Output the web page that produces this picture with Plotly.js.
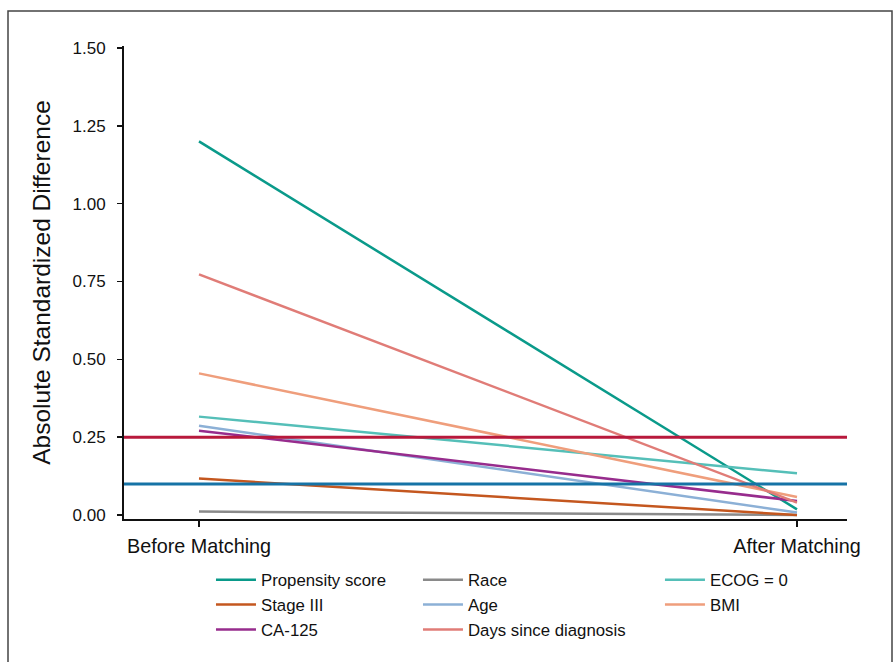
<!DOCTYPE html>
<html>
<head>
<meta charset="utf-8">
<script src="https://cdn.plot.ly/plotly-3.0.1.min.js"></script>
<style>html,body{margin:0;padding:0;background:#fff;}#chart{width:895px;height:662px;}</style>
</head>
<body>
<div id="chart"></div>
<script>
var stages = [0, 1];
var stageLabels = ["Before Matching", "After Matching"];

var seriesNames = ["Propensity score", "Race", "ECOG = 0", "Stage III", "Age", "BMI", "CA-125", "Days since diagnosis"];
var propensityScore = [1.20, 0.018];
var race = [0.011, 0.0];
var ecog0 = [0.316, 0.134];
var stageIII = [0.117, 0.0];
var age = [0.287, 0.008];
var bmi = [0.455, 0.058];
var ca125 = [0.271, 0.045];
var daysSinceDiagnosis = [0.773, 0.040];

var seriesColors = ["#0a9a8a", "#8a8a8a", "#55bfb8", "#c4571f", "#8cb0d6", "#ef9e7c", "#972c8d", "#e07c77"];
var seriesLegends = ["legend", "legend2", "legend3", "legend", "legend2", "legend3", "legend", "legend2"];
var seriesValues = [propensityScore, race, ecog0, stageIII, age, bmi, ca125, daysSinceDiagnosis];

var thresholds = [0.25, 0.10];
var thresholdColors = ["#b8193c", "#1673a6"];

var yTicks = [0, 0.25, 0.5, 0.75, 1.0, 1.25, 1.5];

var traces = seriesNames.map(function (name, i) {
  return {
    type: "scatter",
    mode: "lines",
    name: name,
    x: stages,
    y: seriesValues[i],
    line: {color: seriesColors[i], width: 2.5},
    legend: seriesLegends[i],
    hoverinfo: "skip"
  };
});

var fontFam = "Liberation Sans, Arial, sans-serif";

var shapes = thresholds.map(function (t, i) {
  return {
    type: "line", xref: "paper", yref: "y",
    x0: 0, x1: 1, y0: t, y1: t,
    line: {color: thresholdColors[i], width: 3},
    layer: "above"
  };
});
shapes.push({
  type: "rect", xref: "paper", yref: "paper",
  x0: (8 - 124) / 723, x1: (892 - 124) / 723,
  y0: (519 - 668) / 473, y1: (519 - 11) / 473,
  line: {color: "#444", width: 1.5},
  fillcolor: "rgba(0,0,0,0)",
  layer: "below"
});

var legendBase = {
  orientation: "v",
  yanchor: "top",
  xanchor: "left",
  y: -0.0915,
  bgcolor: "rgba(0,0,0,0)",
  borderwidth: 0,
  itemwidth: 40,
  font: {family: fontFam, size: 16.8, color: "#111"},
  tracegroupgap: 0
};
function leg(x) { var o = Object.assign({}, legendBase); o.x = x; return o; }

var layout = {
  width: 895,
  height: 662,
  margin: {l: 124, r: 48, t: 46, b: 143},
  paper_bgcolor: "#fff",
  plot_bgcolor: "#fff",
  showlegend: true,
  font: {family: fontFam, color: "#111"},
  xaxis: {
    range: [-0.12542, 1.08361],
    tickvals: stages,
    ticktext: stageLabels,
    showgrid: false,
    zeroline: false,
    showline: true,
    linecolor: "#111",
    linewidth: 2,
    ticks: "outside",
    ticklen: 6,
    tickwidth: 1.5,
    tickcolor: "#111",
    ticklabelstandoff: 2,
    tickfont: {family: fontFam, size: 19.8, color: "#111"},
    fixedrange: true
  },
  yaxis: {
    range: [-0.0128, 1.5064],
    tickvals: yTicks,
    tickformat: ".2f",
    showgrid: false,
    zeroline: false,
    showline: true,
    linecolor: "#111",
    linewidth: 2,
    ticks: "outside",
    ticklen: 5,
    tickwidth: 1.5,
    tickcolor: "#111",
    ticklabelstandoff: 8,
    tickfont: {family: fontFam, size: 17, color: "#111"},
    title: {text: "Absolute Standardized Difference", font: {family: fontFam, size: 24.5, color: "#111"}, standoff: 15},
    fixedrange: true
  },
  legend: leg(0.1203),
  legend2: leg(0.4066),
  legend3: leg(0.7413),
  shapes: shapes
};

Plotly.newPlot("chart", traces, layout, {displayModeBar: false, staticPlot: true});
</script>
</body>
</html>
